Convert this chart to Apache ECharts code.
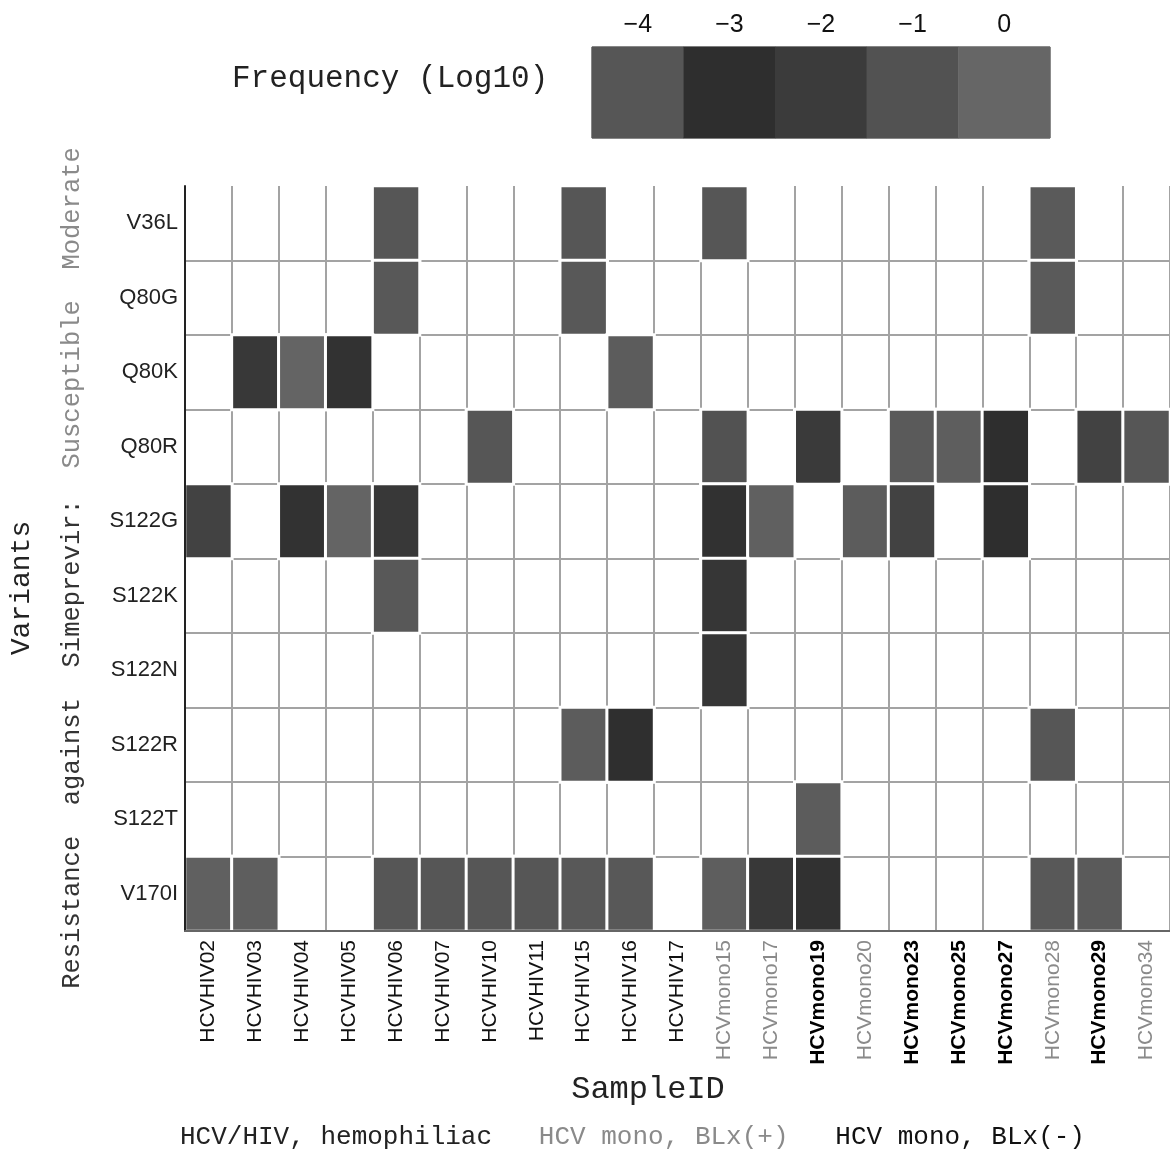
<!DOCTYPE html>
<html>
<head>
<meta charset="utf-8">
<script src="https://cdn.jsdelivr.net/npm/echarts@6/dist/echarts.min.js"></script>
<style>
  html, body { margin: 0; padding: 0; background: #fff; }
  #chart { width: 1170px; height: 1149px; }
</style>
</head>
<body>
<div id="chart"></div>
<script>
// ---------- data ----------
const samples = ['HCVHIV02','HCVHIV03','HCVHIV04','HCVHIV05','HCVHIV06','HCVHIV07','HCVHIV10','HCVHIV11','HCVHIV15','HCVHIV16','HCVHIV17',
  'HCVmono15','HCVmono17','HCVmono19','HCVmono20','HCVmono23','HCVmono25','HCVmono27','HCVmono28','HCVmono29','HCVmono34'];
const sampleGroups = ['hiv','hiv','hiv','hiv','hiv','hiv','hiv','hiv','hiv','hiv','hiv',
  'pos','pos','neg','pos','neg','neg','neg','pos','neg','pos'];
const variants = ['V36L','Q80G','Q80K','Q80R','S122G','S122K','S122N','S122R','S122T','V170I'];
const N = null;
// log10 frequency per sample (null = not detected)
const freqV36L  = [N,N,N,N,-0.8,N,N,N,-0.8,N,N,-0.8,N,N,N,N,N,N,-0.6,N,N];
const freqQ80G  = [N,N,N,N,-0.7,N,N,N,-0.7,N,N,N,N,N,N,N,N,N,-0.6,N,N];
const freqQ80K  = [N,-2.2,-0.1,-2.7,N,N,N,N,N,-0.5,N,N,N,N,N,N,N,N,N,N,N];
const freqQ80R  = [N,N,N,N,N,N,-0.8,N,N,N,N,-1.0,N,-2.1,N,-0.6,-0.4,-3.0,N,-1.7,-0.8];
const freqS122G = [-1.7,N,-2.7,-0.1,-2.2,N,N,N,N,N,N,-2.8,-0.3,N,-0.5,-1.7,N,-3.0,N,N,N];
const freqS122K = [N,N,N,N,-0.7,N,N,N,N,N,N,-2.4,N,N,N,N,N,N,N,N,N];
const freqS122N = [N,N,N,N,N,N,N,N,N,N,N,-2.4,N,N,N,N,N,N,N,N,N];
const freqS122R = [N,N,N,N,N,N,N,N,-0.5,-2.9,N,N,N,N,N,N,N,N,-0.8,N,N];
const freqS122T = [N,N,N,N,N,N,N,N,N,N,N,N,N,-0.5,N,N,N,N,N,N,N];
const freqV170I = [-0.3,-0.4,N,N,-0.8,-0.8,-0.8,-0.8,-0.7,-0.7,N,-0.4,-2.2,-2.8,N,N,N,N,-0.7,-0.6,N];
const scaleTicks = [-4,-3,-2,-1,0];

// ---------- build ----------
const rows = [freqV36L,freqQ80G,freqQ80K,freqQ80R,freqS122G,freqS122K,freqS122N,freqS122R,freqS122T,freqV170I];
const cells = [];
rows.forEach((r, yi) => r.forEach((v, xi) => { if (v !== null) cells.push([xi, yi, v]); }));
const scaleCells = scaleTicks.map((v, i) => [i, 0, v]);

const mono = 'Liberation Mono, Courier New, monospace';
const sans = 'Liberation Sans, Arial, sans-serif';

const chart = echarts.init(document.getElementById('chart'), null, { renderer: 'canvas' });
chart.setOption({
  backgroundColor: '#ffffff',
  animation: false,
  grid: [
    { left: 185, top: 186, width: 988, height: 745, containLabel: false },
    { left: 592, top: 47, width: 458, height: 91, show: true, borderColor: '#333', borderWidth: 1, backgroundColor: 'transparent' }
  ],
  xAxis: [
    {
      type: 'category', gridIndex: 0, data: samples,
      axisLine: { show: false },
      axisTick: { show: false },
      splitLine: { show: true, lineStyle: { color: '#a3a3a3', width: 2 } },
      axisLabel: {
        rotate: 90, margin: 9, fontSize: 21, fontFamily: sans, interval: 0,
        formatter: (v, i) => '{' + sampleGroups[i] + '|' + v + '}',
        rich: {
          hiv: { color: '#111', fontSize: 21, fontFamily: sans },
          pos: { color: '#8a8a8a', fontSize: 21, fontFamily: sans },
          neg: { color: '#000', fontSize: 21, fontFamily: sans, fontWeight: 'bold' }
        }
      }
    },
    {
      type: 'category', gridIndex: 1, data: scaleTicks.map(v => v < 0 ? '\u2212' + Math.abs(v) : String(v)),
      position: 'top',
      axisLine: { show: false }, axisTick: { show: false }, splitLine: { show: false },
      axisLabel: { margin: 9, fontSize: 25, color: '#111', fontFamily: sans }
    },
    {
      type: 'category', gridIndex: 0, data: samples, position: 'bottom', z: 10,
      axisLine: { show: true, lineStyle: { color: '#666', width: 2 } },
      axisTick: { show: false }, axisLabel: { show: false }, splitLine: { show: false }
    }
  ],
  yAxis: [
    {
      type: 'category', gridIndex: 0, data: variants, inverse: true,
      axisLine: { show: false },
      axisTick: { show: false },
      splitLine: { show: true, interval: (i) => i !== 0, lineStyle: { color: '#a3a3a3', width: 2 } },
      axisLabel: { margin: 7, fontSize: 22, color: '#222', fontFamily: sans }
    },
    {
      type: 'category', gridIndex: 1, data: ['scale'],
      show: false
    },
    {
      type: 'category', gridIndex: 0, data: variants, inverse: true, position: 'left', z: 10,
      axisLine: { show: true, lineStyle: { color: '#222', width: 2 } },
      axisTick: { show: false }, axisLabel: { show: false }, splitLine: { show: false }
    }
  ],
  visualMap: {
    show: false, type: 'continuous', min: -4, max: 0, seriesIndex: [0, 1],
    inRange: { color: ['#565656', '#2e2e2e', '#3b3b3b', '#525252', '#666666'] }
  },
  series: [
    {
      type: 'heatmap', xAxisIndex: 0, yAxisIndex: 0, data: cells,
      itemStyle: { borderColor: '#ffffff', borderWidth: 3 },
      emphasis: { disabled: true }, silent: true
    },
    {
      type: 'heatmap', xAxisIndex: 1, yAxisIndex: 1, data: scaleCells,
      itemStyle: { borderWidth: 0 },
      emphasis: { disabled: true }, silent: true
    }
  ],
  graphic: [
    { type: 'text', left: 232, top: 63, style: { text: 'Frequency (Log10)', font: '31px ' + mono, fill: '#222' } },
    { type: 'text', x: 22, y: 588, rotation: Math.PI / 2,
      style: { text: 'Variants', font: '28px ' + mono, fill: '#222', textAlign: 'center', textVerticalAlign: 'middle' } },
    { type: 'text', x: 72, y: 568, rotation: Math.PI / 2,
      style: {
        text: '{a|Resistance  against  Simeprevir:}  {b|Susceptible  Moderate}',
        textAlign: 'center', textVerticalAlign: 'middle', font: '25.5px ' + mono,
        rich: {
          a: { font: '25.5px ' + mono, fill: '#333' },
          b: { font: '25.5px ' + mono, fill: '#8a8a8a' }
        }
      } },
    { type: 'text', x: 648, y: 1090,
      style: { text: 'SampleID', font: '32px ' + mono, fill: '#222', textAlign: 'center', textVerticalAlign: 'middle' } },
    { type: 'text', x: 180, y: 1137,
      style: {
        text: '{a|HCV/HIV, hemophiliac}   {b|HCV mono, BLx(+)}   {c|HCV mono, BLx(-)}',
        textAlign: 'left', textVerticalAlign: 'middle', font: '26px ' + mono,
        rich: {
          a: { font: '26px ' + mono, fill: '#222' },
          b: { font: '26px ' + mono, fill: '#8a8a8a' },
          c: { font: '26px ' + mono, fill: '#111' }
        }
      } }
  ]
});
</script>
</body>
</html>
